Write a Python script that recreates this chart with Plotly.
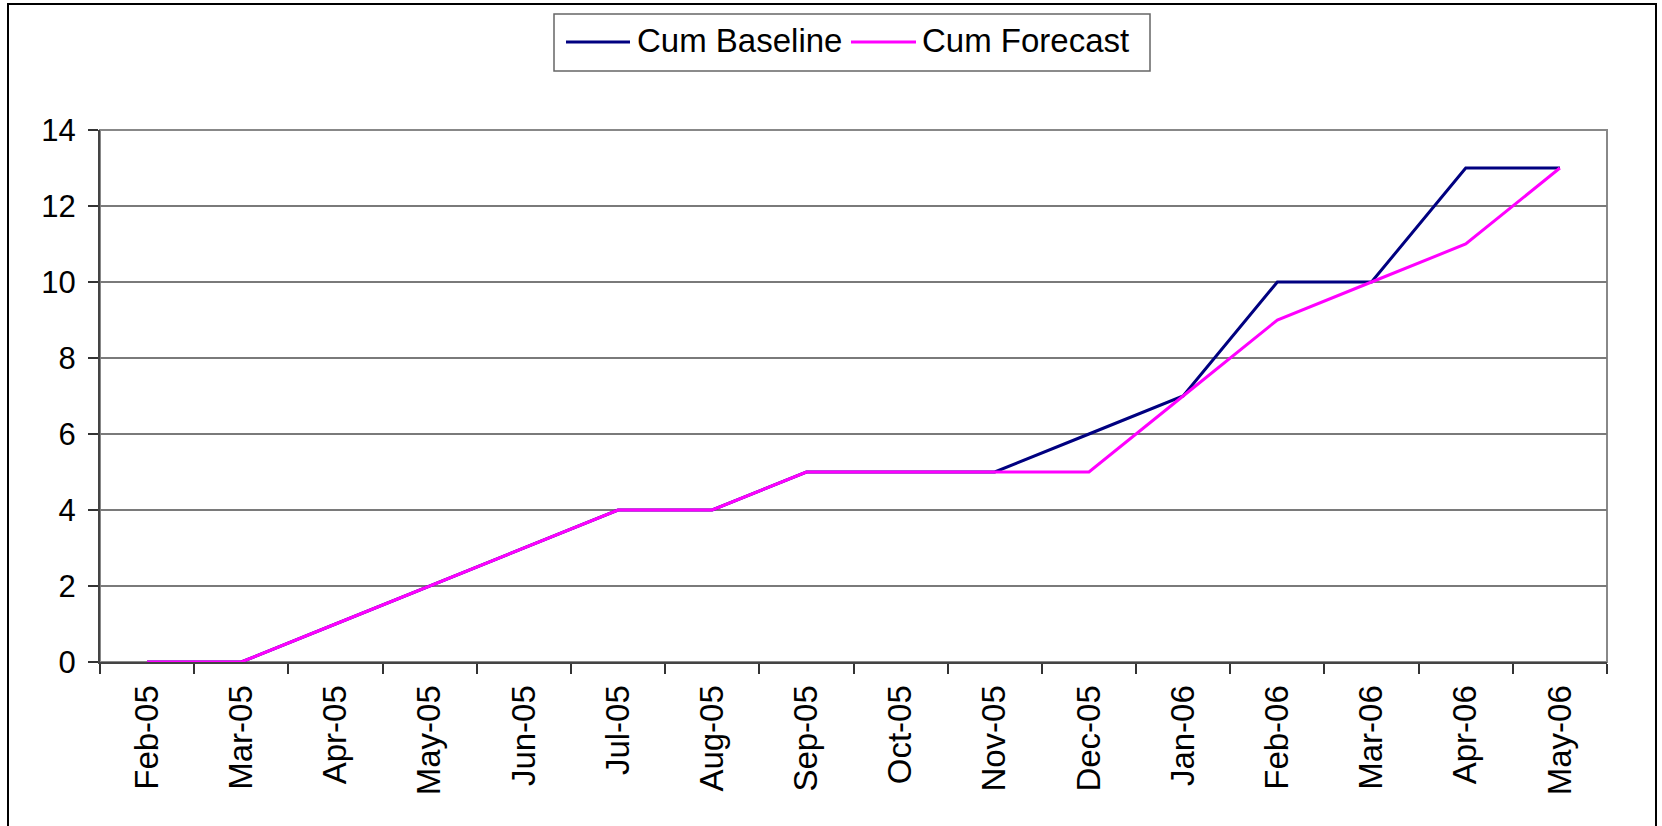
import plotly.graph_objects as go

# Monthly categories and cumulative counts
months = ["Feb-05", "Mar-05", "Apr-05", "May-05", "Jun-05", "Jul-05", "Aug-05", "Sep-05",
          "Oct-05", "Nov-05", "Dec-05", "Jan-06", "Feb-06", "Mar-06", "Apr-06", "May-06"]
cum_baseline = [0, 0, 1, 2, 3, 4, 4, 5, 5, 5, 6, 7, 10, 10, 13, 13]
cum_forecast = [0, 0, 1, 2, 3, 4, 4, 5, 5, 5, 5, 7, 9, 10, 11, 13]
y_ticks = [0, 2, 4, 6, 8, 10, 12, 14]

BASE_COLOR = "#000080"
FORE_COLOR = "#FF00FF"
FONT = "Liberation Sans, Arial, sans-serif"

W, H = 1662, 826
L, R, T, B = 100, 55, 130, 164
pw, ph = W - L - R, H - T - B


def px_x(x):
    return (x - L) / pw


def px_y(y):
    return (H - B - y) / ph


fig = go.Figure()
fig.add_trace(go.Scatter(x=months, y=cum_baseline, mode="lines", name="Cum Baseline",
                         line=dict(color=BASE_COLOR, width=3)))
fig.add_trace(go.Scatter(x=months, y=cum_forecast, mode="lines", name="Cum Forecast",
                         line=dict(color=FORE_COLOR, width=3)))

shapes = [
    # plot-area frame
    dict(type="rect", xref="paper", yref="paper", x0=0, x1=1, y0=0, y1=1,
         line=dict(color="#888888", width=2), layer="below"),
    # outer chart frame
    dict(type="rect", xref="paper", yref="paper", x0=px_x(8), x1=px_x(1656),
         y0=px_y(840), y1=px_y(4), line=dict(color="#000000", width=2), layer="below"),
    # legend box
    dict(type="rect", xref="paper", yref="paper", x0=px_x(554), x1=px_x(1150),
         y0=px_y(71), y1=px_y(14), line=dict(color="#666666", width=1.5),
         fillcolor="white", layer="above"),
    # legend samples
    dict(type="line", xref="paper", yref="paper", x0=px_x(566), x1=px_x(630),
         y0=px_y(42), y1=px_y(42), line=dict(color=BASE_COLOR, width=3)),
    dict(type="line", xref="paper", yref="paper", x0=px_x(851), x1=px_x(916),
         y0=px_y(42), y1=px_y(42), line=dict(color=FORE_COLOR, width=3)),
]

annotations = [
    dict(text="Cum Baseline", xref="paper", yref="paper", x=px_x(635), y=px_y(41),
         xanchor="left", yanchor="middle", showarrow=False,
         font=dict(family=FONT, size=33, color="black")),
    dict(text="Cum Forecast", xref="paper", yref="paper", x=px_x(920), y=px_y(41),
         xanchor="left", yanchor="middle", showarrow=False,
         font=dict(family=FONT, size=33, color="black")),
]

fig.update_layout(
    width=W, height=H,
    margin=dict(l=L, r=R, t=T, b=B),
    paper_bgcolor="white", plot_bgcolor="white",
    showlegend=False,
    shapes=shapes, annotations=annotations,
    font=dict(family=FONT, color="black"),
)

fig.update_xaxes(
    type="category", categoryorder="array", categoryarray=months,
    range=[-0.5, len(months) - 0.5],
    tickson="boundaries", ticks="outside", ticklen=10, tickwidth=1.5, tickcolor="#333333",
    tickangle=-90, tickfont=dict(family=FONT, size=33, color="black"),
    ticklabelstandoff=8,
    showline=True, linecolor="#444444", linewidth=2,
    showgrid=False, zeroline=False,
)
fig.update_yaxes(
    range=[0, 14], tickvals=y_ticks, ticktext=[str(v) for v in y_ticks],
    ticks="outside", ticklen=10, tickwidth=1.5, tickcolor="#333333",
    tickfont=dict(family=FONT, size=31, color="black"),
    ticklabelstandoff=6,
    showline=True, linecolor="#444444", linewidth=2,
    showgrid=True, gridcolor="#7a7a7a", gridwidth=1.5, zeroline=False,
)

fig.write_html("out.html")
